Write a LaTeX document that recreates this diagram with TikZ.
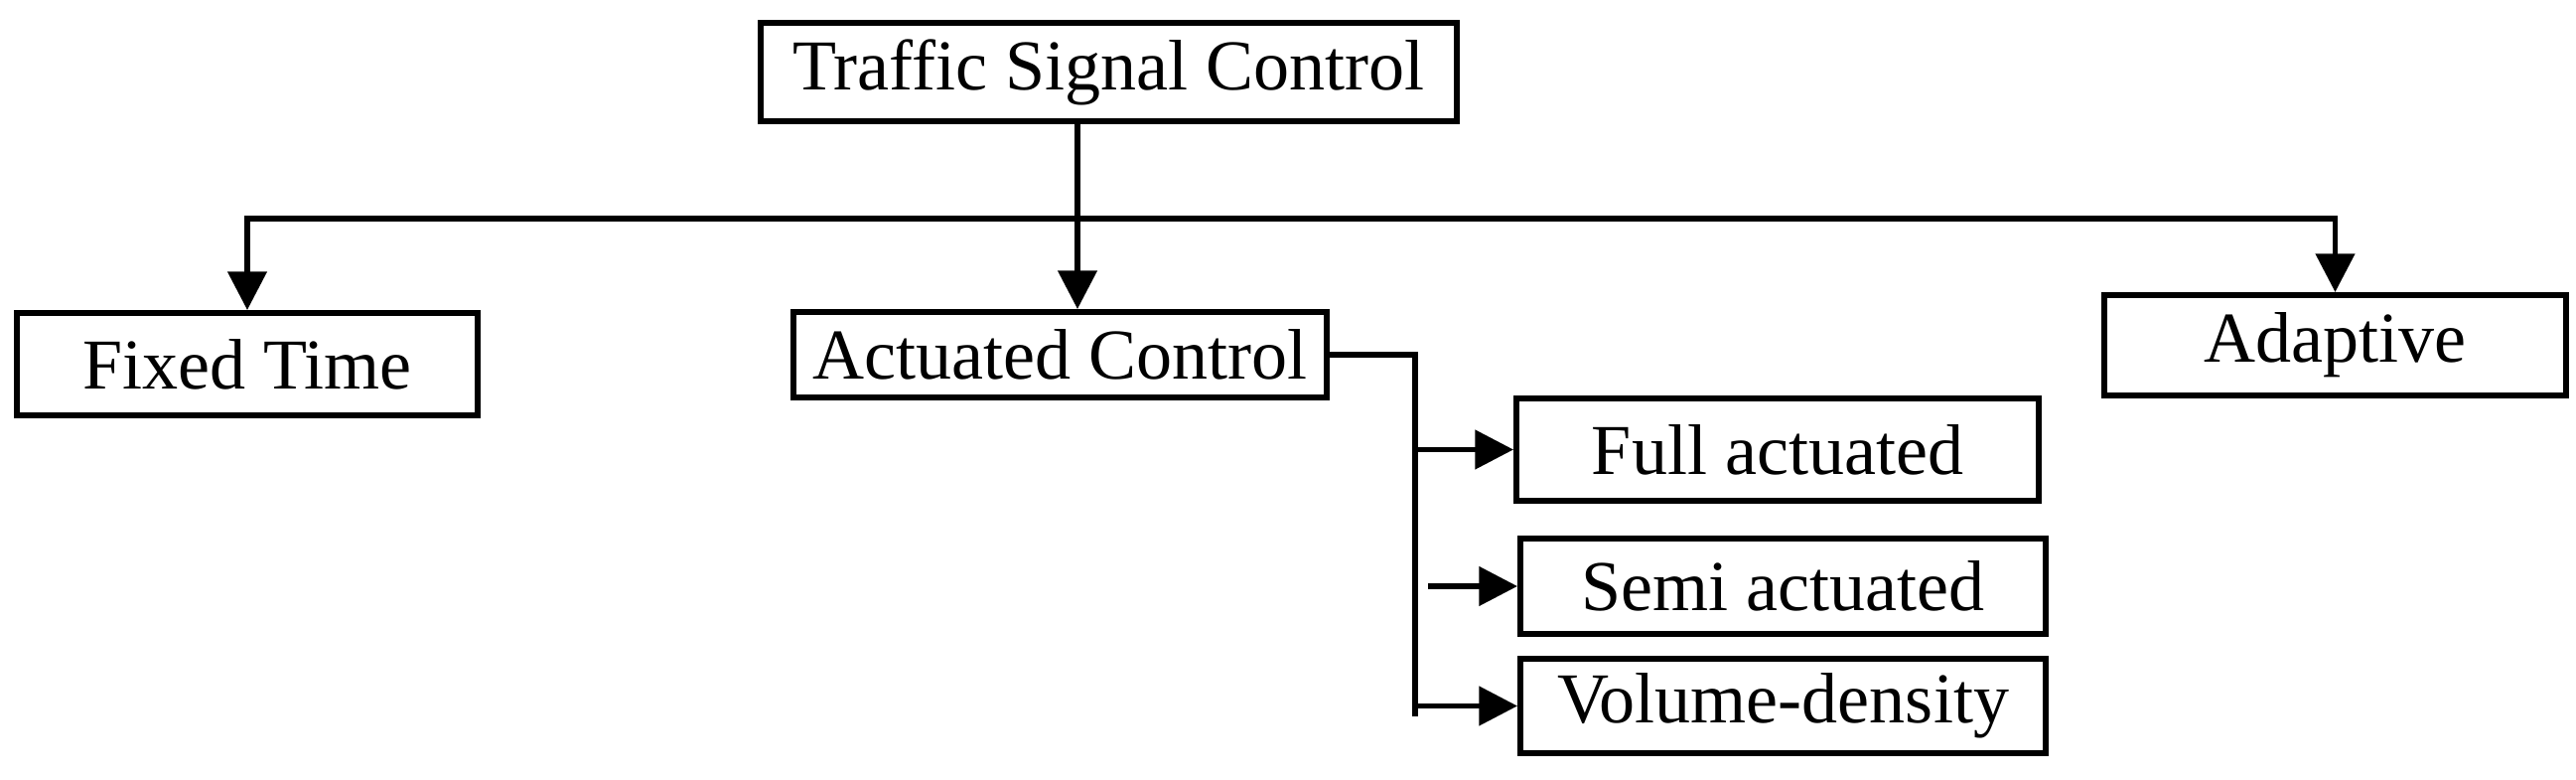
\documentclass[tikz,border=0pt]{standalone}
\usepackage{fontspec}
\setmainfont{Liberation Serif}
\usetikzlibrary{arrows.meta}

\begin{document}
\begin{tikzpicture}
    % 方框与箭头样式
    [box/.style={draw, line width=1.7pt, inner sep=0pt, font=\fontsize{20.5pt}{24pt}\selectfont},
    arr/.style={line width=1.6pt, -{Triangle[width=11pt, length=11pt]}},
    link/.style={line width=1.6pt}]
    \useasboundingbox (0, 0) rectangle (25.94, 7.85);
    % 绘制方框
    \node[box, minimum width=7.01cm, minimum height=0.99cm] (tsc) at (11.165, 7.125) {Traffic Signal Control};
    \node[box, minimum width=4.64cm, minimum height=1.03cm] (ft) at (2.49, 4.185) {Fixed Time};
    \node[box, minimum width=5.37cm, minimum height=0.86cm] (act) at (10.675, 4.28) {Actuated Control};
    \node[box, minimum width=4.65cm, minimum height=1.01cm] (adp) at (23.515, 4.375) {Adaptive};
    \node[box, minimum width=5.26cm, minimum height=1.03cm] (full) at (17.90, 3.325) {Full actuated};
    \node[box, minimum width=5.29cm, minimum height=0.96cm] (semi) at (17.955, 1.95) {Semi actuated};
    \node[box, minimum width=5.29cm, minimum height=0.95cm] (vol) at (17.955, 0.745) {Volume-density};
    % 分支点
    \coordinate (trunk) at (10.85, 5.65);
    \coordinate (split) at (14.25, 0.64);
    % 绘制第一层连线
    \draw[arr] ([xshift=-3.15mm]tsc.south) -- ([xshift=1.75mm]act.north);
    \draw[arr] (trunk) -| (ft.north);
    \draw[arr] (trunk) -| (adp.north);
    % 绘制感应控制分支
    \draw[link] (act.east) -| (split);
    \draw[arr] (split |- full.west) -- (full.west);
    \draw[arr] ([xshift=1.3mm]split |- semi.west) -- (semi.west);
    \draw[arr] (split |- vol.west) -- (vol.west);
\end{tikzpicture}
\end{document}
